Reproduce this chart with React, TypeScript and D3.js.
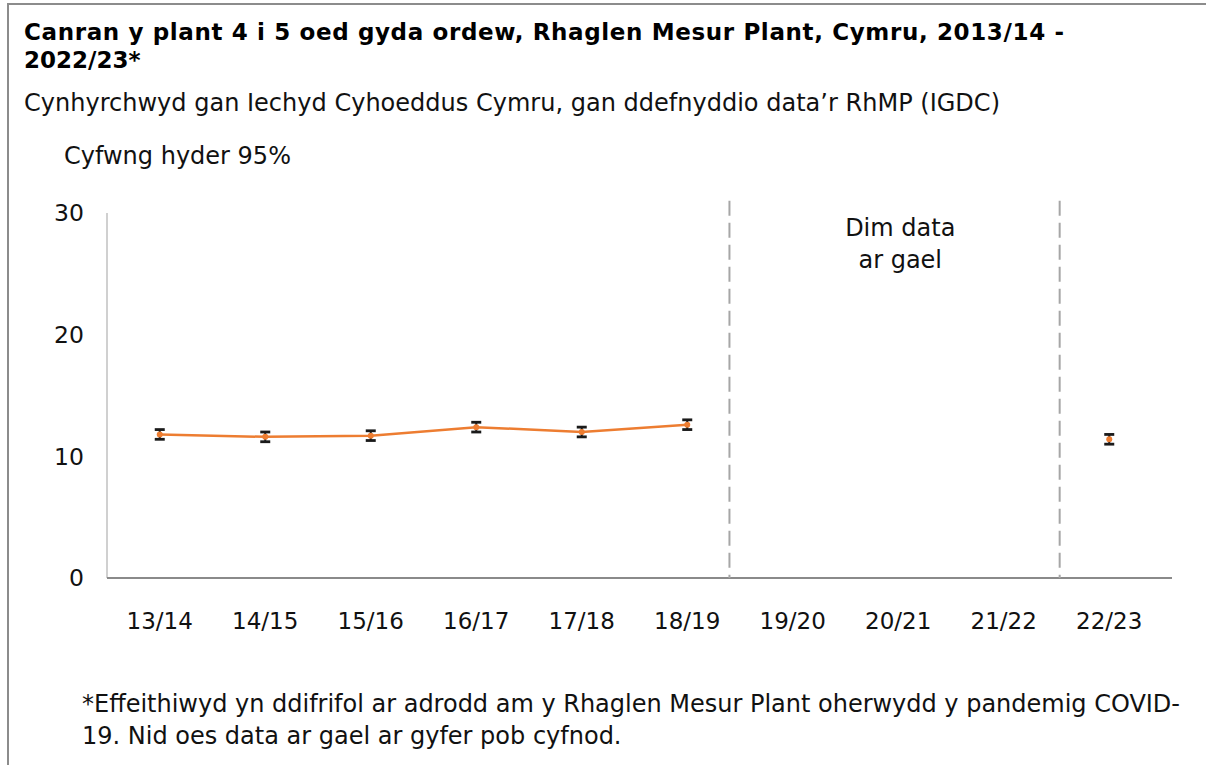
import * as d3 from "d3";
import { useEffect, useRef } from "react";

// school years shown on the x axis
const years = ["13/14", "14/15", "15/16", "16/17", "17/18", "18/19", "19/20", "20/21", "21/22", "22/23"];
// percent obese, null where there was no data collected
const values = [11.8, 11.6, 11.7, 12.4, 12.0, 12.6, null, null, null, 11.4];
const lower = [11.4, 11.2, 11.3, 12.0, 11.6, 12.2, null, null, null, 11.0];
const upper = [12.2, 12.0, 12.1, 12.8, 12.4, 13.0, null, null, null, 11.8];
const yTicks = [0, 10, 20, 30];
// where the "no data" dashed separators sit, in category index units
const gapMarks = [5.4, 8.53];

const W = 1206;
const H = 765;
const FONT = "'DejaVu Sans', Verdana, sans-serif";

const drawChart = (target: any) => {
  const svg = d3.select(target);
  svg.selectAll("*").remove();

  const margins = { left: 107, right: 1206 - 1162, top: 213, bottom: 765 - 578 };

  const x = d3
    .scaleBand()
    .domain(years)
    .range([margins.left, W - margins.right])
    .padding(0);
  const bw = x.bandwidth();
  const cx = (d: string) => (x(d) as number) + bw / 2;
  // index -> pixel for things drawn between categories
  const xi = d3
    .scaleLinear()
    .domain([0, years.length - 1])
    .range([cx(years[0]), cx(years[years.length - 1])]);
  const y = d3.scaleLinear().domain([0, 30]).range([H - margins.bottom, margins.top]);

  // frame (only top and left edges are visible in the original)
  svg
    .append("path")
    .attr("d", `M8,${H} L8,4 L${W},4`)
    .attr("fill", "none")
    .attr("stroke", "#8c8c8c")
    .attr("stroke-width", 2);

  // titles
  const title = svg.append("text").attr("font-family", FONT).attr("font-weight", "bold").attr("font-size", 23).attr("fill", "#000");
  title
    .append("tspan")
    .attr("x", 24)
    .attr("y", 40)
    .attr("textLength", 1040)
    .attr("lengthAdjust", "spacing")
    .text("Canran y plant 4 i 5 oed gyda ordew, Rhaglen Mesur Plant, Cymru, 2013/14 -");
  title.append("tspan").attr("x", 24).attr("y", 68).text("2022/23*");

  svg
    .append("text")
    .attr("x", 24)
    .attr("y", 111)
    .attr("font-family", FONT)
    .attr("font-size", 24)
    .attr("fill", "#111")
    .attr("textLength", 976)
    .attr("lengthAdjust", "spacing")
    .text("Cynhyrchwyd gan Iechyd Cyhoeddus Cymru, gan ddefnyddio data\u2019r RhMP (IGDC)");

  svg
    .append("text")
    .attr("x", 64)
    .attr("y", 164)
    .attr("font-family", FONT)
    .attr("font-size", 24)
    .attr("fill", "#111")
    .text("Cyfwng hyder 95%");

  // y axis: line + labels, no ticks
  svg
    .append("line")
    .attr("x1", margins.left)
    .attr("x2", margins.left)
    .attr("y1", y(30))
    .attr("y2", y(0))
    .attr("stroke", "#c0c0c0")
    .attr("stroke-width", 1.5);

  svg
    .append("g")
    .selectAll("text")
    .data(yTicks)
    .join("text")
    .attr("x", 84)
    .attr("y", (d) => y(d))
    .attr("dy", "0.36em")
    .attr("text-anchor", "end")
    .attr("font-family", FONT)
    .attr("font-size", 23.5)
    .attr("fill", "#111")
    .text((d) => d);

  // x axis baseline + category labels
  svg
    .append("line")
    .attr("x1", margins.left)
    .attr("x2", W - margins.right + 10)
    .attr("y1", y(0))
    .attr("y2", y(0))
    .attr("stroke", "#8a8a8a")
    .attr("stroke-width", 2);

  svg
    .append("g")
    .selectAll("text")
    .data(years)
    .join("text")
    .attr("x", (d) => cx(d))
    .attr("y", 629)
    .attr("text-anchor", "middle")
    .attr("font-family", FONT)
    .attr("font-size", 23)
    .attr("fill", "#111")
    .text((d) => d);

  // dashed separators around the missing years
  svg
    .append("g")
    .selectAll("line")
    .data(gapMarks)
    .join("line")
    .attr("x1", (d) => xi(d))
    .attr("x2", (d) => xi(d))
    .attr("y1", y(31))
    .attr("y2", y(0))
    .attr("stroke", "#a6a6a6")
    .attr("stroke-width", 2)
    .attr("stroke-dasharray", "15,7");

  const note = svg
    .append("text")
    .attr("text-anchor", "middle")
    .attr("font-family", FONT)
    .attr("font-size", 24)
    .attr("fill", "#111");
  note.append("tspan").attr("x", cx("20/21") + 2).attr("y", 236).text("Dim data");
  note.append("tspan").attr("x", cx("20/21") + 2).attr("y", 268).text("ar gael");

  // series
  const pts = years
    .map((d, i) => ({ year: d, v: values[i], lo: lower[i], hi: upper[i] }))
    .filter((p) => p.v !== null) as { year: string; v: number; lo: number; hi: number }[];

  // line only runs through the consecutive years before the gap
  const linePts = pts.filter((p) => years.indexOf(p.year) < 6);
  const line = d3
    .line<{ year: string; v: number }>()
    .x((d) => cx(d.year))
    .y((d) => y(d.v));

  svg
    .append("path")
    .attr("d", line(linePts))
    .attr("fill", "none")
    .attr("stroke", "#ED7D31")
    .attr("stroke-width", 2.5);

  const err = svg.append("g").selectAll("g").data(pts).join("g");
  err
    .append("line")
    .attr("x1", (d) => cx(d.year))
    .attr("x2", (d) => cx(d.year))
    .attr("y1", (d) => y(d.lo))
    .attr("y2", (d) => y(d.hi))
    .attr("stroke", "#1a1a1a")
    .attr("stroke-width", 2);
  err
    .append("circle")
    .attr("cx", (d) => cx(d.year))
    .attr("cy", (d) => y(d.v))
    .attr("r", 3)
    .attr("fill", "#ED7D31");
  ["lo", "hi"].forEach((k) => {
    err
      .append("line")
      .attr("x1", (d) => cx(d.year) - 5)
      .attr("x2", (d) => cx(d.year) + 5)
      .attr("y1", (d: any) => y(d[k]))
      .attr("y2", (d: any) => y(d[k]))
      .attr("stroke", "#1a1a1a")
      .attr("stroke-width", 2.8);
  });

  // footnote
  const foot = svg.append("text").attr("font-family", FONT).attr("font-size", 24).attr("fill", "#111");
  foot
    .append("tspan")
    .attr("x", 82)
    .attr("y", 712)
    .attr("textLength", 1098)
    .attr("lengthAdjust", "spacing")
    .text("*Effeithiwyd yn ddifrifol ar adrodd am y Rhaglen Mesur Plant oherwydd y pandemig COVID-");
  foot.append("tspan").attr("x", 82).attr("y", 744).text("19. Nid oes data ar gael ar gyfer pob cyfnod.");
};

const App = () => {
  const ref = useRef<SVGSVGElement>(null);
  useEffect(() => {
    if (ref.current) drawChart(ref.current);
  }, []);
  return (
    <div style={{ position: "absolute", left: 0, top: 0, background: "#fff" }}>
      <svg ref={ref} width={W} height={H} style={{ display: "block" }} />
    </div>
  );
};

export default App;
